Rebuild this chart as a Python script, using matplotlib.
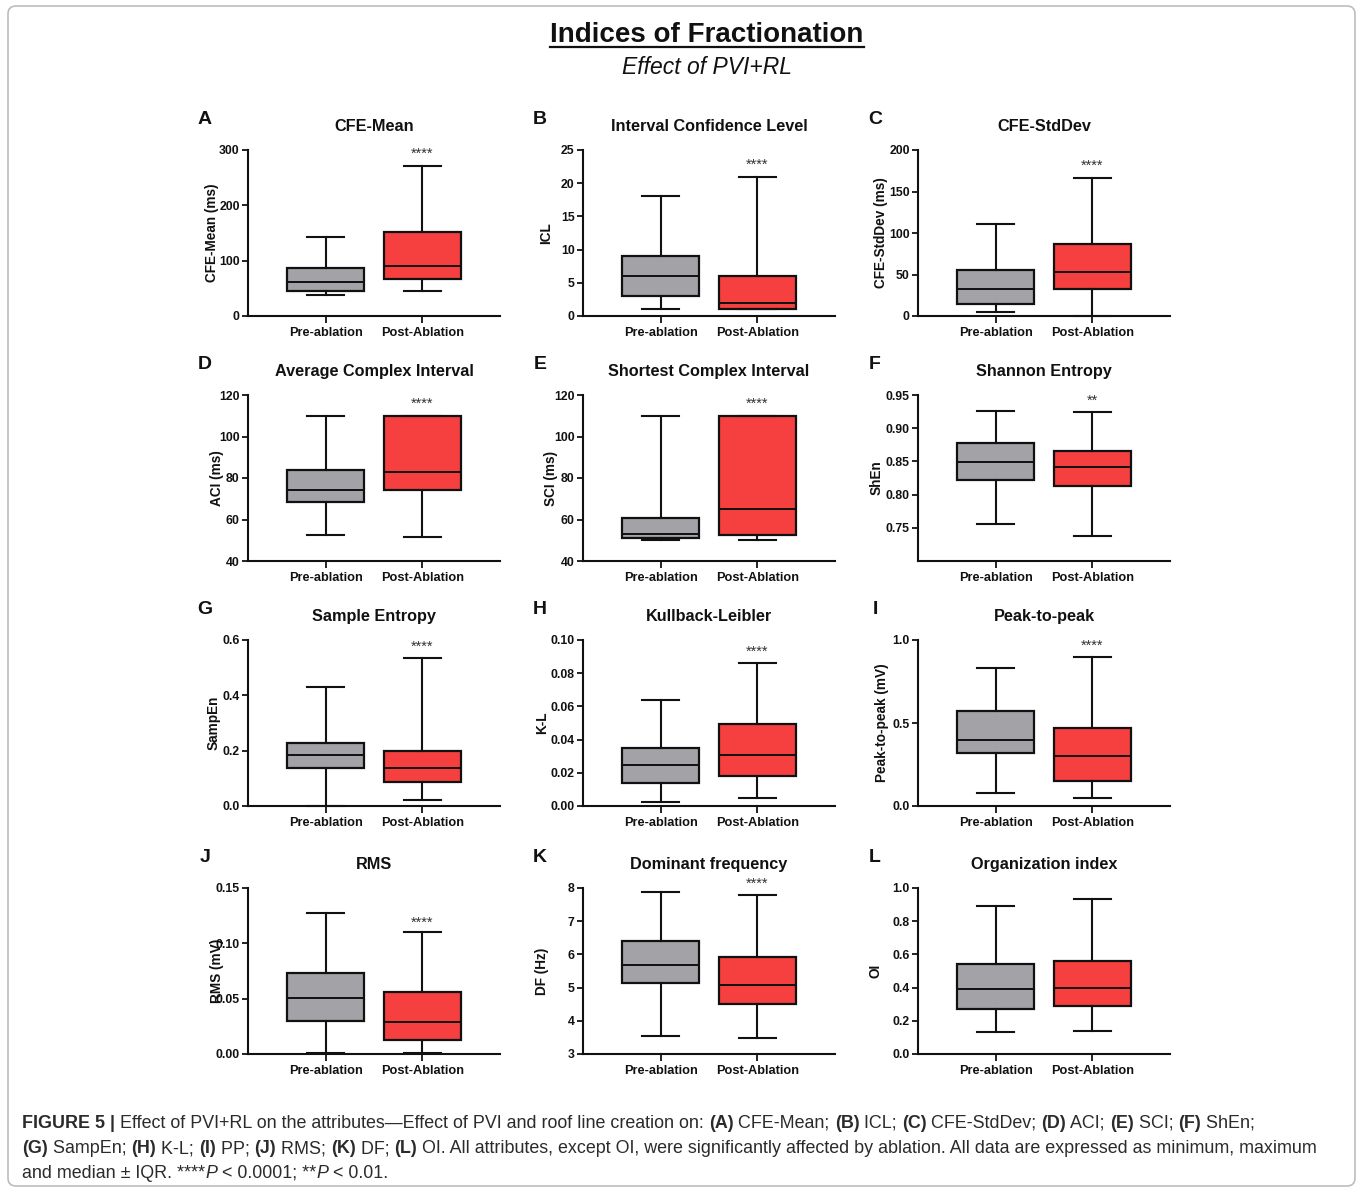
import matplotlib
matplotlib.use('Agg')
import matplotlib.pyplot as plt
from matplotlib.patches import FancyBboxPatch
from matplotlib.lines import Line2D
from matplotlib.transforms import IdentityTransform

plt.rcParams['font.family'] = ['Liberation Sans', 'DejaVu Sans']

# ---------------- data ----------------
groups = ['Pre-ablation', 'Post-Ablation']
letters = ['A', 'B', 'C', 'D', 'E', 'F', 'G', 'H', 'I', 'J', 'K', 'L']
titles = ['CFE-Mean', 'Interval Confidence Level', 'CFE-StdDev',
          'Average Complex Interval', 'Shortest Complex Interval', 'Shannon Entropy',
          'Sample Entropy', 'Kullback-Leibler', 'Peak-to-peak',
          'RMS', 'Dominant frequency', 'Organization index']
ylabels = ['CFE-Mean (ms)', 'ICL', 'CFE-StdDev (ms)', 'ACI (ms)', 'SCI (ms)', 'ShEn',
           'SampEn', 'K-L', 'Peak-to-peak (mV)', 'RMS (mV)', 'DF (Hz)', 'OI']
ytick_labels = [['0', '100', '200', '300'],
                ['0', '5', '10', '15', '20', '25'],
                ['0', '50', '100', '150', '200'],
                ['40', '60', '80', '100', '120'],
                ['40', '60', '80', '100', '120'],
                ['0.75', '0.80', '0.85', '0.90', '0.95'],
                ['0.0', '0.2', '0.4', '0.6'],
                ['0.00', '0.02', '0.04', '0.06', '0.08', '0.10'],
                ['0.0', '0.5', '1.0'],
                ['0.00', '0.05', '0.10', '0.15'],
                ['3', '4', '5', '6', '7', '8'],
                ['0.0', '0.2', '0.4', '0.6', '0.8', '1.0']]
y_bottom = [0, 0, 0, 40, 40, 0.70, 0, 0, 0, 0, 3, 0]
y_top = [300, 25, 200, 120, 120, 0.95, 0.6, 0.10, 1.0, 0.15, 8, 1.0]

pre_min = [38, 1, 5, 52.5, 50, 0.755, 0.0, 0.0025, 0.08, 0.001, 3.55, 0.13]
pre_q1 = [45, 3, 15, 68.5, 51, 0.822, 0.138, 0.014, 0.32, 0.030, 5.13, 0.27]
pre_med = [61, 6, 33, 74, 53, 0.849, 0.183, 0.025, 0.40, 0.051, 5.67, 0.39]
pre_q3 = [86, 9, 55, 84, 60.5, 0.877, 0.228, 0.035, 0.57, 0.073, 6.40, 0.54]
pre_max = [142, 18, 111, 110, 110, 0.926, 0.43, 0.064, 0.83, 0.127, 7.87, 0.89]
post_min = [45, 1, 0, 51.5, 50, 0.738, 0.022, 0.005, 0.05, 0.0005, 3.47, 0.14]
post_q1 = [67, 1, 33, 74, 52.5, 0.813, 0.087, 0.018, 0.15, 0.0125, 4.52, 0.29]
post_med = [91, 2, 53, 83, 65, 0.841, 0.138, 0.031, 0.30, 0.029, 5.07, 0.40]
post_q3 = [152, 6, 86.5, 110, 110, 0.866, 0.199, 0.0495, 0.47, 0.056, 5.92, 0.56]
post_max = [271, 21, 166.5, 110, 110, 0.925, 0.535, 0.086, 0.90, 0.110, 7.80, 0.935]

stars = ['****', '****', '****', '****', '****', '**',
         '****', '****', '****', '****', '****', '']
star_y = [293, 22.8, 181, 116, 116, 0.941, 0.577, 0.093, 0.965, 0.119, 8.12, 0]

# ---------------- layout ----------------
W, H = 1358, 1188
fig = plt.figure(figsize=(W / 100, H / 100), dpi=100)
fig.patch.set_facecolor('white')

col_x = [248, 583, 918]
row_top = [150, 395, 640, 888]
ax_w, ax_h = 252, 166
ylabel_off = [36, 37, 37, 31, 32, 41, 34, 41, 36, 31, 41, 42]

gray = '#A2A2A7'
red = '#F6403F'
ink = '#111111'

for i in range(12):
    r, c = divmod(i, 3)
    left = col_x[c] / W
    bottom = 1 - (row_top[r] + ax_h) / H
    ax = fig.add_axes([left, bottom, ax_w / W, ax_h / H])
    stats = [
        dict(whislo=pre_min[i], q1=pre_q1[i], med=pre_med[i], q3=pre_q3[i], whishi=pre_max[i], label=groups[0]),
        dict(whislo=post_min[i], q1=post_q1[i], med=post_med[i], q3=post_q3[i], whishi=post_max[i], label=groups[1]),
    ]
    bp = ax.bxp(stats, positions=[1, 2], widths=0.8, showfliers=False, patch_artist=True,
                boxprops=dict(linewidth=1.6, edgecolor=ink),
                medianprops=dict(color=ink, linewidth=1.4),
                whiskerprops=dict(color=ink, linewidth=1.5),
                capprops=dict(color=ink, linewidth=1.5),
                capwidths=0.38)
    for patch, col in zip(bp['boxes'], [gray, red]):
        patch.set_facecolor(col)
    for ln in bp['whiskers'] + bp['caps']:
        ln.set_clip_on(False)
    ax.set_xlim(0.2, 2.8)
    ax.set_ylim(y_bottom[i], y_top[i])
    ax.set_yticks([float(t) for t in ytick_labels[i]])
    ax.set_yticklabels(ytick_labels[i])
    for s in ['top', 'right']:
        ax.spines[s].set_visible(False)
    for s in ['left', 'bottom']:
        ax.spines[s].set_linewidth(1.5)
        ax.spines[s].set_color(ink)
    ax.tick_params(axis='y', length=4, width=1.3, labelsize=8.8, pad=2, colors=ink)
    ax.tick_params(axis='x', length=5, width=1.3, labelsize=9.2, pad=3, colors=ink)
    for lab in ax.get_yticklabels() + ax.get_xticklabels():
        lab.set_fontweight('bold')
    ax.set_ylabel(ylabels[i], fontsize=9.8, fontweight='bold', va='center', color=ink)
    ax.yaxis.set_label_coords(-ylabel_off[i] / ax_w, 0.5)
    ax.set_title(titles[i], fontsize=11.7, fontweight='bold', pad=14, color=ink)
    if stars[i]:
        ax.text(2, star_y[i], stars[i], ha='center', va='center', fontsize=10.5, color='#333333',
                clip_on=False)
    fig.text((col_x[c] - 43) / W, 1 - (row_top[r] - 31) / H, letters[i], fontsize=14,
             fontweight='bold', ha='center', va='center', color=ink)

# ---------------- titles ----------------
t = fig.text(707 / W, 1 - 35 / H, 'Indices of Fractionation', fontsize=20, fontweight='bold',
             ha='center', va='center', color=ink)
fig.text(707 / W, 1 - 68 / H, 'Effect of PVI+RL', fontsize=16.5, style='italic',
         ha='center', va='center', color=ink)

fig.canvas.draw()
bb = t.get_window_extent()
fig.add_artist(Line2D([bb.x0, bb.x1], [bb.y0 + 1, bb.y0 + 1], transform=IdentityTransform(),
                      color=ink, linewidth=1.6))

# ---------------- caption ----------------
cap_ax = fig.add_axes([0, 0, 1, 1])
cap_ax.set_axis_off()
cap_ax.set_xlim(0, W)
cap_ax.set_ylim(H, 0)
cap_fs = 12.9
cap_col = '#2b2b2b'
lines = [
    [('FIGURE 5 |', 'bold', 'normal'), (' Effect of PVI+RL on the attributes\u2014Effect of PVI and roof line creation on: ', 'normal', 'normal'),
     ('(A)', 'bold', 'normal'), (' CFE-Mean; ', 'normal', 'normal'), ('(B)', 'bold', 'normal'), (' ICL; ', 'normal', 'normal'),
     ('(C)', 'bold', 'normal'), (' CFE-StdDev; ', 'normal', 'normal'), ('(D)', 'bold', 'normal'), (' ACI; ', 'normal', 'normal'),
     ('(E)', 'bold', 'normal'), (' SCI; ', 'normal', 'normal'), ('(F)', 'bold', 'normal'), (' ShEn;', 'normal', 'normal')],
    [('(G)', 'bold', 'normal'), (' SampEn; ', 'normal', 'normal'), ('(H)', 'bold', 'normal'), (' K-L; ', 'normal', 'normal'),
     ('(I)', 'bold', 'normal'), (' PP; ', 'normal', 'normal'), ('(J)', 'bold', 'normal'), (' RMS; ', 'normal', 'normal'),
     ('(K)', 'bold', 'normal'), (' DF; ', 'normal', 'normal'), ('(L)', 'bold', 'normal'),
     (' OI. All attributes, except OI, were significantly affected by ablation. All data are expressed as minimum, maximum', 'normal', 'normal')],
    [('and median \u00b1 IQR. ****', 'normal', 'normal'), ('P', 'normal', 'italic'), (' < 0.0001; **', 'normal', 'normal'),
     ('P', 'normal', 'italic'), (' < 0.01.', 'normal', 'normal')],
]
line_y = [1128, 1153, 1178]
for segs, y in zip(lines, line_y):
    prev = None
    for txt, wt, st in segs:
        if prev is None:
            prev = cap_ax.text(22, y, txt, fontsize=cap_fs, fontweight=wt, style=st,
                               ha='left', va='baseline', color=cap_col)
        else:
            prev = cap_ax.annotate(txt, xy=(1, 0), xycoords=prev, ha='left', va='bottom',
                                   fontsize=cap_fs, fontweight=wt, style=st, color=cap_col)

# ---------------- border ----------------
border = FancyBboxPatch((8, 2), 1347, 1180, boxstyle='round,pad=0,rounding_size=8',
                        transform=IdentityTransform(), facecolor='none',
                        edgecolor='#BDBDBD', linewidth=1.2)
fig.add_artist(border)

fig.savefig('out.png', dpi=100, facecolor='white')
